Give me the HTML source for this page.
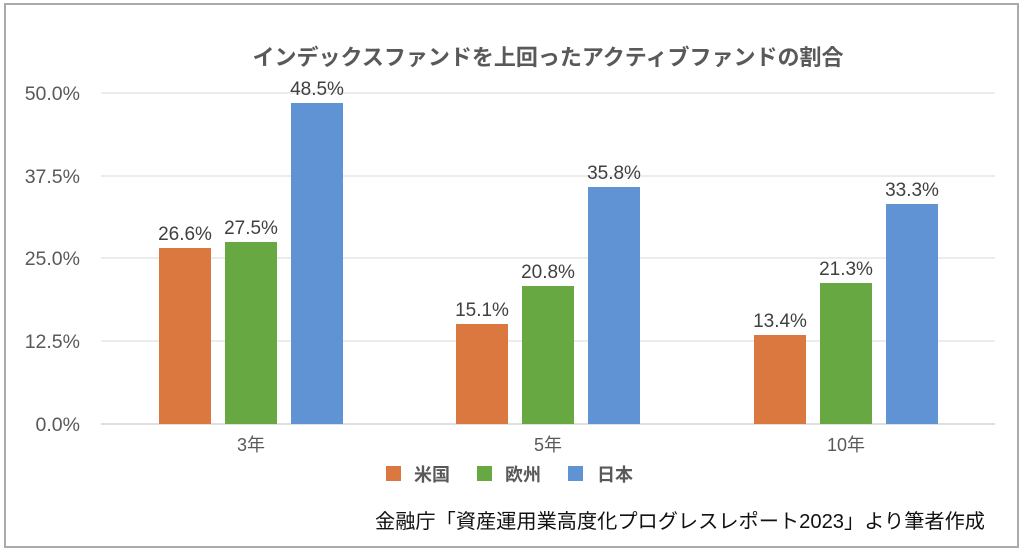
<!DOCTYPE html>
<html><head><meta charset="utf-8"><style>
body{margin:0;background:#fff;}
svg text{font-family:"Liberation Sans","Noto Sans CJK JP",sans-serif;}
</style></head><body>
<svg width="1024" height="555" xmlns="http://www.w3.org/2000/svg">
<rect x="0" y="0" width="1024" height="555" fill="#fff"/>
<rect x="5" y="4" width="1013" height="543" fill="#fff" stroke="#aaa" stroke-width="2"/>
<text x="548" y="65" text-anchor="middle" font-size="22" font-weight="bold" fill="#595959">インデックスファンドを上回ったアクティブファンドの割合</text>
<g stroke="#d9d9d9" stroke-width="1">
<line x1="101" y1="93" x2="995" y2="93"/>
<line x1="101" y1="176" x2="995" y2="176"/>
<line x1="101" y1="258" x2="995" y2="258"/>
<line x1="101" y1="341" x2="995" y2="341"/>
</g>
<line x1="101" y1="424" x2="995" y2="424" stroke="#bfbfbf"/>
<g font-size="19.5" fill="#595959" text-anchor="end">
<text x="80" y="100">50.0%</text>
<text x="80" y="183">37.5%</text>
<text x="80" y="265">25.0%</text>
<text x="80" y="348">12.5%</text>
<text x="80" y="431">0.0%</text>
</g>
<g>
<rect x="159" y="248" width="52" height="176" fill="#DB7840"/>
<rect x="225" y="242" width="52" height="182" fill="#67A843"/>
<rect x="291" y="103" width="52" height="321" fill="#5F93D4"/>
<rect x="456" y="324" width="52" height="100" fill="#DB7840"/>
<rect x="522" y="286" width="52" height="138" fill="#67A843"/>
<rect x="588" y="187" width="52" height="237" fill="#5F93D4"/>
<rect x="754" y="335" width="52" height="89" fill="#DB7840"/>
<rect x="820" y="283" width="52" height="141" fill="#67A843"/>
<rect x="886" y="204" width="52" height="220" fill="#5F93D4"/>
</g>
<g font-size="19" fill="#404040" text-anchor="middle">
<text x="185" y="240">26.6%</text>
<text x="251" y="234">27.5%</text>
<text x="317" y="95">48.5%</text>
<text x="482" y="316">15.1%</text>
<text x="548" y="278">20.8%</text>
<text x="614" y="179">35.8%</text>
<text x="780" y="327">13.4%</text>
<text x="846" y="275">21.3%</text>
<text x="912" y="196">33.3%</text>
</g>
<g font-size="18" fill="#595959" text-anchor="middle">
<text x="251" y="451">3年</text>
<text x="548" y="451">5年</text>
<text x="846" y="451">10年</text>
</g>
<rect x="386" y="466" width="15" height="15" fill="#DB7840"/>
<rect x="477" y="466" width="15" height="15" fill="#67A843"/>
<rect x="568" y="466" width="15" height="15" fill="#5F93D4"/>
<g font-size="18" font-weight="bold" fill="#595959">
<text x="414" y="481">米国</text>
<text x="505" y="481">欧州</text>
<text x="597" y="481">日本</text>
</g>
<text x="375" y="528" font-size="20" fill="#111" textLength="610" lengthAdjust="spacingAndGlyphs">金融庁「資産運用業高度化プログレスレポート2023」より筆者作成</text>
</svg>
</body></html>
